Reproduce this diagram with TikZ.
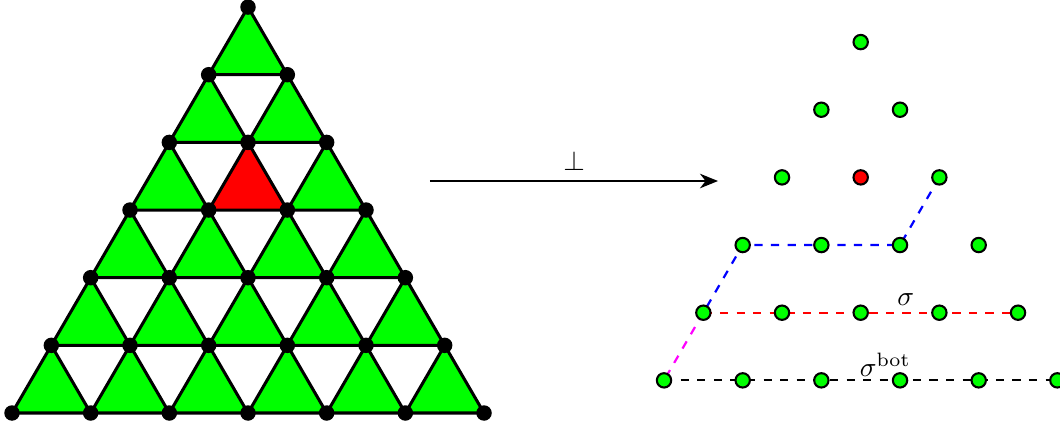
\documentclass[tikz,border=0pt]{standalone}
\usetikzlibrary{arrows.meta}
\definecolor{vgreen}{RGB}{0,255,0}
\definecolor{vmagenta}{RGB}{255,0,255}
\begin{document}
\begin{tikzpicture}[x=1cm,y=0.86cm]
\tikzset{
 tri/.style={fill=vgreen,draw=black,line width=1.1pt,line join=round},
 redtri/.style={tri,fill=red},
 bdot/.style={circle,fill=black,inner sep=0pt,minimum size=5.6pt},
 gdot/.style={circle,fill=vgreen,draw=black,line width=0.75pt,inner sep=0pt,minimum size=5.2pt},
 rdot/.style={gdot,fill=red},
 seg/.style={dashed,line width=0.8pt},
}
\useasboundingbox (-0.1525,-0.2217) rectangle (13.3215,6.1044);
% left lattice vertices
\foreach \j in {0,...,6}{
  \pgfmathtruncatemacro\n{6-\j}
  \foreach \i in {0,...,\n}{
    \coordinate (L-\j-\i) at ({\i+0.5*\j},\j);
  }
}
% upward triangles
\foreach \j in {0,...,5}{
  \pgfmathtruncatemacro\n{5-\j}
  \pgfmathtruncatemacro\jp{\j+1}
  \foreach \i in {0,...,\n}{
    \pgfmathtruncatemacro\ip{\i+1}
    \ifnum\j=3 \ifnum\i=1
      \draw[redtri] (L-\j-\i) -- (L-\j-\ip) -- (L-\jp-\i) -- cycle;
    \else
      \draw[tri] (L-\j-\i) -- (L-\j-\ip) -- (L-\jp-\i) -- cycle;
    \fi\else
      \draw[tri] (L-\j-\i) -- (L-\j-\ip) -- (L-\jp-\i) -- cycle;
    \fi
  }
}
% black vertex dots
\foreach \j in {0,...,6}{
  \pgfmathtruncatemacro\n{6-\j}
  \foreach \i in {0,...,\n}{
    \node[bdot] (Ld-\j-\i) at (L-\j-\i) {};
  }
}
% arrow
\coordinate (A1) at (5.313,3.429);
\coordinate (A2) at (8.975,3.429);
\draw[line width=1pt,-{Stealth[length=6.5pt,width=5.2pt,inset=2pt]}] (A1) -- node[above] (perp) {$\perp$} (A2);
% right points
\foreach \j in {0,...,5}{
  \pgfmathtruncatemacro\n{5-\j}
  \foreach \i in {0,...,\n}{
    \coordinate (R-\j-\i) at ({8.288+0.5*\j+\i},{0.4826+\j});
  }
}
\draw[seg,blue] (R-3-2) -- (R-2-2) -- (R-2-0) -- (R-1-0);
\draw[seg,red] (R-1-0) -- (R-1-4);
\draw[seg,vmagenta] (R-1-0) -- (R-0-0);
\draw[seg,black] (R-0-0) -- (R-0-5);
\foreach \j in {0,...,5}{
  \pgfmathtruncatemacro\n{5-\j}
  \foreach \i in {0,...,\n}{
    \ifnum\j=3 \ifnum\i=1
      \node[rdot] (Rd-\j-\i) at (R-\j-\i) {};
    \else
      \node[gdot] (Rd-\j-\i) at (R-\j-\i) {};
    \fi\else
      \node[gdot] (Rd-\j-\i) at (R-\j-\i) {};
    \fi
  }
}
\node (sig) at (11.36,1.670) {$\sigma$};
\node (sigbot) at (11.10,0.709) {$\sigma^{\mathrm{bot}}$};
\end{tikzpicture}
\end{document}
